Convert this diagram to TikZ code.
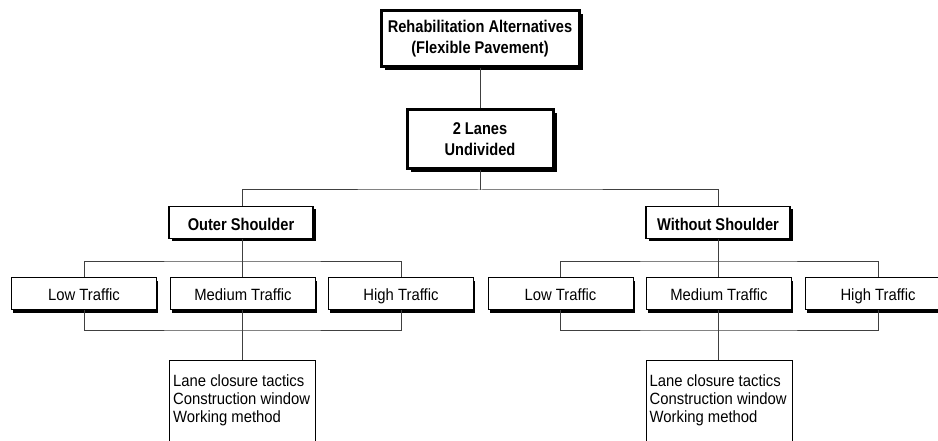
\documentclass[tikz,border=0pt]{standalone}
\usepackage{fontspec}
\setmainfont{Liberation Sans}[FakeStretch=0.91]
\newfontfamily\headfont{Liberation Sans}[FakeStretch=0.86]
\usetikzlibrary{shadows}

\tikzset{
  conn/.style={draw=black!75, line width=1pt},
  mainbox/.style={draw=black, fill=white, line width=3pt, align=center,
    font=\headfont\bfseries\fontsize{17}{21}\selectfont,
    drop shadow={shadow xshift=3.5pt, shadow yshift=-3.5pt, fill=black, opacity=1}},
  branchbox/.style={draw=black, fill=white, line width=1.8pt, align=center,
    minimum width=144pt, minimum height=32pt, text height=15pt, text depth=0pt,
    font=\headfont\bfseries\fontsize{17}{21}\selectfont,
    drop shadow={shadow xshift=2.5pt, shadow yshift=-3pt, fill=black, opacity=1}},
  trafficbox/.style={draw=black, fill=white, line width=1pt,
    minimum width=145pt, minimum height=32pt, text height=14pt, text depth=0pt,
    font=\fontsize{16.3}{18}\selectfont,
    drop shadow={shadow xshift=1.5pt, shadow yshift=-3pt, fill=black, opacity=1}},
  detailbox/.style={draw=black, fill=white, line width=1pt,
    minimum width=146pt, minimum height=100pt},
  detailtext/.style={align=left, inner sep=0pt, font=\fontsize{16.3}{18}\selectfont}
}

\begin{document}
\begin{tikzpicture}[x=1pt, y=-1pt]
  \useasboundingbox (0,0) rectangle (938,441);
  \fill[white] (0,0) rectangle (938,441);
  \clip (0,0) rectangle (938,441);

  % top of the hierarchy
  \node[mainbox, minimum width=198pt, minimum height=56pt] (root) at (480,38.5)
    {Rehabilitation Alternatives\\(Flexible Pavement)};
  \node[mainbox, minimum width=146pt, minimum height=59pt] (lanes) at (480,139)
    {2 Lanes\\Undivided};

  % shoulder options
  \node[branchbox] (outer)   at (241,222.5) {Outer Shoulder};
  \node[branchbox] (without) at (718,222.5) {Without Shoulder};

  % traffic levels
  \node[trafficbox] (lowL)  at (84,293.5)  {Low Traffic};
  \node[trafficbox] (medL)  at (243,293.5) {Medium Traffic};
  \node[trafficbox] (highL) at (401,293.5) {High Traffic};
  \node[trafficbox] (lowR)  at (560.5,293.5) {Low Traffic};
  \node[trafficbox] (medR)  at (719,293.5)   {Medium Traffic};
  \node[trafficbox] (highR) at (878,293.5)   {High Traffic};

  % factor lists
  \node[detailbox, anchor=north] (detL) at (242.5,360) {};
  \node[detailtext, anchor=north west] (detLtxt) at ([xshift=4pt,yshift=-14pt]detL.north west)
    {Lane closure tactics\\Construction window\\Working method};
  \node[detailbox, anchor=north] (detR) at (719,360) {};
  \node[detailtext, anchor=north west] (detRtxt) at ([xshift=4pt,yshift=-14pt]detR.north west)
    {Lane closure tactics\\Construction window\\Working method};

  % junction points of the connector buses
  \coordinate (busTop) at (480,190);
  \coordinate (busL)   at (242,261);
  \coordinate (busR)   at (718,261);
  \coordinate (baseL)  at (242,330);
  \coordinate (baseR)  at (718,330);

  % connectors
  \draw[conn] (root.south) -- (lanes.north);
  \draw[conn] (lanes.south) -- (busTop);
  \draw[conn] (outer.north -| busL) |- (busTop) -| (without.north -| busR);

  \draw[conn] (outer.south -| busL) -- (medL.north -| busL);
  \draw[conn] (lowL.north) |- (busL) -| (highL.north);
  \draw[conn] (lowL.south) |- (baseL) -| (highL.south);
  \draw[conn] (medL.south -| baseL) -- (detL.north -| baseL);

  \draw[conn] (without.south -| busR) -- (medR.north -| busR);
  \draw[conn] (lowR.north) |- (busR) -| (highR.north);
  \draw[conn] (lowR.south) |- (baseR) -| (highR.south);
  \draw[conn] (medR.south -| baseR) -- (detR.north -| baseR);
\end{tikzpicture}
\end{document}
